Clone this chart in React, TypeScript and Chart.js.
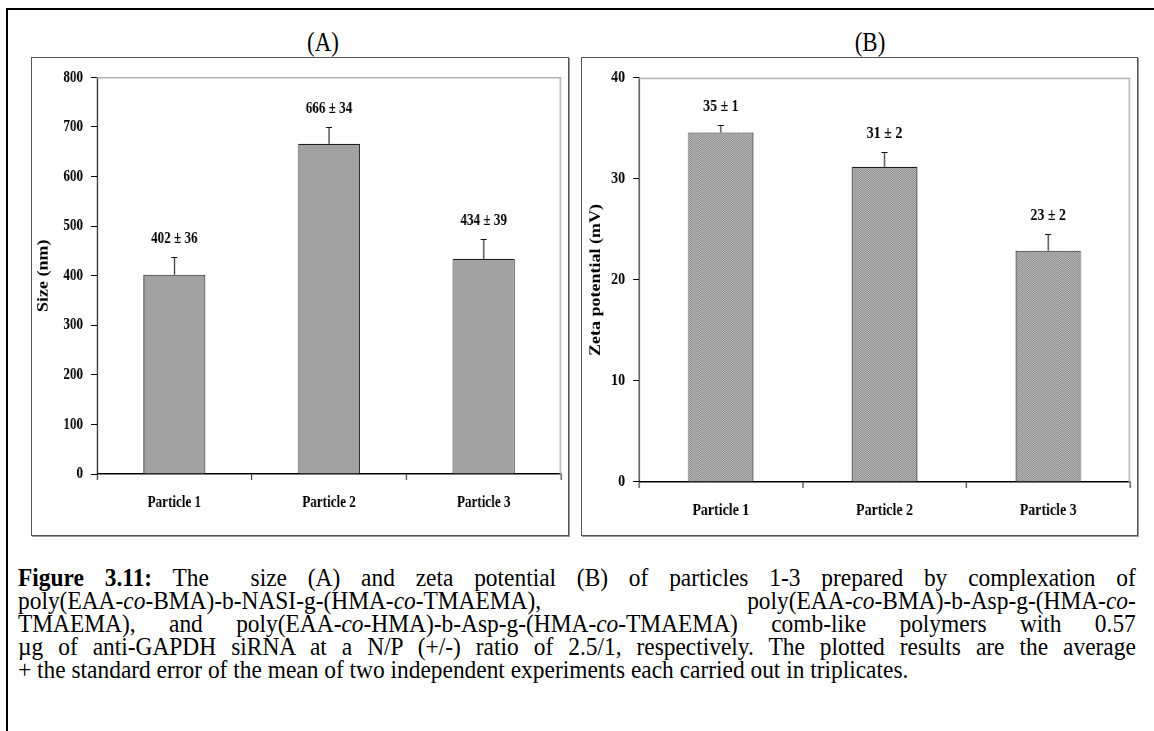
import React, { useEffect, useRef } from "react";
import { Chart, registerables } from "chart.js";

Chart.register(...registerables);

// ---------- data ----------
const categories = ["Particle 1", "Particle 2", "Particle 3"];

const sizeValues = [402, 666, 434];
const sizeErrors = [36, 34, 39];
const sizeLabels = ["402 ± 36", "666 ± 34", "434 ± 39"];
const sizeTickMin = 0;
const sizeTickMax = 800;
const sizeTickStep = 100;

const zetaValues = [34.6, 31.2, 22.9];
const zetaErrors = [0.7, 1.5, 1.7];
const zetaLabels = ["35 ± 1", "31 ± 2", "23 ± 2"];
const zetaTickMin = 0;
const zetaTickMax = 40;
const zetaTickStep = 10;

const SERIF = '"Liberation Serif", "Times New Roman", Times, serif';
const SQUEEZE = 0.82; // the original figure's chart text is horizontally condensed
const CAPTION_SQUEEZE = 0.9;

type PanelCfg = {
  left: number;
  top: number;
  width: number;
  height: number;
  padTop: number;
  padRight: number;
  yAxisWidth: number;
  xAxisHeight: number;
  values: number[];
  errors: number[];
  labels: string[];
  min: number;
  max: number;
  step: number;
  yTitle: string;
  yTitleSize: number;
  yTitleCenter: number;
  tickSize: number;
  catSize: number;
  catPad: number;
  valueSize: number;
  hatched: boolean;
};

const frameAndErrors = {
  id: "frameAndErrors",
  beforeDatasetsDraw(chart: any) {
    const { ctx, chartArea } = chart;
    const k = chart.options.plugins.frameAndErrors.k;
    ctx.save();
    ctx.strokeStyle = "#b4b4b4";
    ctx.lineWidth = 1.5;
    ctx.beginPath();
    ctx.moveTo(chartArea.left, chartArea.top + 0.5);
    ctx.lineTo(chartArea.right, chartArea.top + 0.5);
    ctx.stroke();
    ctx.lineWidth = 1.5 / k;
    ctx.beginPath();
    ctx.moveTo(chartArea.right - 0.7 / k, chartArea.top);
    ctx.lineTo(chartArea.right - 0.7 / k, chartArea.bottom);
    ctx.stroke();
    ctx.restore();
  },
  afterDatasetsDraw(chart: any) {
    const { ctx } = chart;
    const opts = chart.options.plugins.frameAndErrors;
    const k = opts.k;
    const yScale = chart.scales.y;
    const meta = chart.getDatasetMeta(0);
    ctx.save();
    meta.data.forEach((bar: any, i: number) => {
      const v = opts.values[i];
      const e = opts.errors[i];
      const x = bar.x;
      const yTop = yScale.getPixelForValue(v);
      const yErr = Math.round(yScale.getPixelForValue(v + e)) + 0.5;
      ctx.strokeStyle = "#111";
      ctx.lineWidth = 1.1 / k;
      ctx.beginPath();
      ctx.moveTo(x, yTop);
      ctx.lineTo(x, yErr);
      ctx.stroke();
      ctx.lineWidth = 1;
      ctx.beginPath();
      ctx.moveTo(x - 3 / k, yErr);
      ctx.lineTo(x + 3 / k, yErr);
      ctx.stroke();
      ctx.fillStyle = "#000";
      ctx.font = `bold ${opts.valueSize}px ${SERIF}`;
      ctx.textAlign = "center";
      ctx.textBaseline = "middle";
      ctx.fillText(opts.labels[i], x, yErr - 19);
    });
    ctx.restore();
  },
};

function makeHatch(): CanvasPattern | string {
  const c = document.createElement("canvas");
  c.width = 2;
  c.height = 2;
  const g = c.getContext("2d");
  if (!g) return "#a4a4a4";
  g.fillStyle = "#bdbdbd";
  g.fillRect(0, 0, 2, 2);
  g.fillStyle = "#8a8a8a";
  g.fillRect(0, 0, 1, 1);
  g.fillRect(1, 1, 1, 1);
  const p = g.createPattern(c, "repeat");
  return p || "#a4a4a4";
}

function Panel({ cfg }: { cfg: PanelCfg }) {
  const ref = useRef<HTMLCanvasElement | null>(null);
  const cw = Math.round(cfg.width / SQUEEZE);
  const k = cfg.width / cw;
  useEffect(() => {
    if (!ref.current) return;
    const fill = cfg.hatched ? makeHatch() : "#a2a2a2";
    const titleLine = cfg.yTitleSize * 1.2;
    const chart = new Chart(ref.current, {
      type: "bar",
      data: {
        labels: categories,
        datasets: [
          {
            data: cfg.values,
            backgroundColor: fill as any,
            borderColor: "#1e1e1e",
            borderWidth: 1.1,
            borderSkipped: "bottom",
            barPercentage: 0.4,
            categoryPercentage: 1,
          },
        ],
      },
      options: {
        animation: false,
        responsive: false,
        maintainAspectRatio: false,
        devicePixelRatio: 1,
        events: [],
        layout: { padding: { top: cfg.padTop, right: cfg.padRight / k, left: 0, bottom: 0 } },
        plugins: {
          legend: { display: false },
          tooltip: { enabled: false },
          title: { display: false },
          frameAndErrors: {
            values: cfg.values,
            errors: cfg.errors,
            labels: cfg.labels,
            valueSize: cfg.valueSize,
            k,
          },
        } as any,
        scales: {
          x: {
            grid: {
              offset: true,
              drawOnChartArea: false,
              drawTicks: true,
              tickLength: 6,
              color: "#000",
              lineWidth: 1 / k,
            },
            border: { color: "#000", width: 1.5 },
            ticks: {
              color: "#000",
              font: { family: SERIF, size: cfg.catSize, weight: "bold" },
              padding: cfg.catPad,
              maxRotation: 0,
              autoSkip: false,
            },
            afterFit: (s: any) => {
              s.height = cfg.xAxisHeight;
            },
          },
          y: {
            min: cfg.min,
            max: cfg.max,
            ticks: {
              stepSize: cfg.step,
              color: "#000",
              font: { family: SERIF, size: cfg.tickSize, weight: "bold" },
              padding: 8 / k,
            },
            grid: {
              drawOnChartArea: false,
              drawTicks: true,
              tickLength: 6 / k,
              color: "#000",
              lineWidth: 1,
            },
            border: { color: "#000", width: 1.1 / k },
            title: {
              display: true,
              text: cfg.yTitle,
              color: "#000",
              font: { family: SERIF, size: cfg.yTitleSize, weight: "bold" },
              padding: { top: cfg.yTitleCenter / k - titleLine / 2, bottom: 0 },
            },
            afterFit: (s: any) => {
              s.width = cfg.yAxisWidth / k;
            },
          },
        },
      } as any,
      plugins: [frameAndErrors as any],
    });
    return () => chart.destroy();
  }, [cfg, k]);

  return (
    <div
      style={{
        position: "absolute",
        left: cfg.left - 1,
        top: cfg.top - 1,
        width: cfg.width,
        height: cfg.height,
        border: "1px solid #555",
        boxShadow: "1px 1px 0 #9a9a9a",
        background: "#fff",
        overflow: "hidden",
      }}
    >
      <canvas
        ref={ref}
        width={cw}
        height={cfg.height}
        style={{
          display: "block",
          width: cw,
          height: cfg.height,
          transform: `scaleX(${k})`,
          transformOrigin: "0 0",
        }}
      />
    </div>
  );
}

const panelA: PanelCfg = {
  left: 32,
  top: 58,
  width: 536,
  height: 477,
  padTop: 18,
  padRight: 7,
  yAxisWidth: 65,
  xAxisHeight: 61,
  values: sizeValues,
  errors: sizeErrors,
  labels: sizeLabels,
  min: sizeTickMin,
  max: sizeTickMax,
  step: sizeTickStep,
  yTitle: "Size (nm)",
  yTitleSize: 18,
  yTitleCenter: 12,
  tickSize: 16,
  catSize: 16,
  catPad: 13,
  valueSize: 16,
  hatched: false,
};

const panelB: PanelCfg = {
  left: 582,
  top: 58,
  width: 555,
  height: 477,
  padTop: 17,
  padRight: 7,
  yAxisWidth: 57,
  xAxisHeight: 53,
  values: zetaValues,
  errors: zetaErrors,
  labels: zetaLabels,
  min: zetaTickMin,
  max: zetaTickMax,
  step: zetaTickStep,
  yTitle: "Zeta potential (mV)",
  yTitleSize: 18,
  yTitleCenter: 14,
  tickSize: 17,
  catSize: 17,
  catPad: 12,
  valueSize: 17,
  hatched: true,
};

const captionLine: React.CSSProperties = {
  textAlign: "justify",
  textAlignLast: "justify" as any,
  whiteSpace: "nowrap",
  height: 23,
  lineHeight: "23px",
};

const panelTitle = (left: number): React.CSSProperties => ({
  position: "absolute",
  left,
  top: 27,
  width: 140,
  textAlign: "center",
  fontSize: 27,
  lineHeight: "30px",
  transform: "scaleX(0.85)",
  transformOrigin: "50% 50%",
});

export default function App() {
  return (
    <div
      style={{
        position: "absolute",
        left: 0,
        top: 0,
        width: 1154,
        height: 731,
        overflow: "hidden",
        background: "#fff",
        fontFamily: SERIF,
        color: "#000",
      }}
    >
      <div
        style={{
          position: "absolute",
          left: 6,
          top: 8,
          width: 1300,
          height: 900,
          border: "2px solid #000",
        }}
      />
      <div style={panelTitle(253)}>(A)</div>
      <div style={panelTitle(800)}>(B)</div>
      <Panel cfg={panelA} />
      <Panel cfg={panelB} />
      <div
        style={{
          position: "absolute",
          left: 18,
          top: 566,
          width: Math.round(1118 / CAPTION_SQUEEZE),
          fontSize: 26,
          transform: `scaleX(${CAPTION_SQUEEZE})`,
          transformOrigin: "0 0",
        }}
      >
        <div style={captionLine}>
          <b>Figure 3.11:</b> The{"\u00a0"} size (A) and zeta potential (B) of particles 1-3 prepared by complexation of
        </div>
        <div style={captionLine}>
          poly(EAA-<i>co</i>-BMA)-b-NASI-g-(HMA-<i>co</i>-TMAEMA), poly(EAA-<i>co</i>-BMA)-b-Asp-g-(HMA-<i>co</i>-
        </div>
        <div style={captionLine}>
          TMAEMA), and poly(EAA-<i>co</i>-HMA)-b-Asp-g-(HMA-<i>co</i>-TMAEMA) comb-like polymers with 0.57
        </div>
        <div style={captionLine}>
          µg of anti-GAPDH siRNA at a N/P (+/-) ratio of 2.5/1, respectively. The plotted results are the average
        </div>
        <div style={{ ...captionLine, textAlign: "left", textAlignLast: "left" as any }}>
          + the standard error of the mean of two independent experiments each carried out in triplicates.
        </div>
      </div>
    </div>
  );
}
